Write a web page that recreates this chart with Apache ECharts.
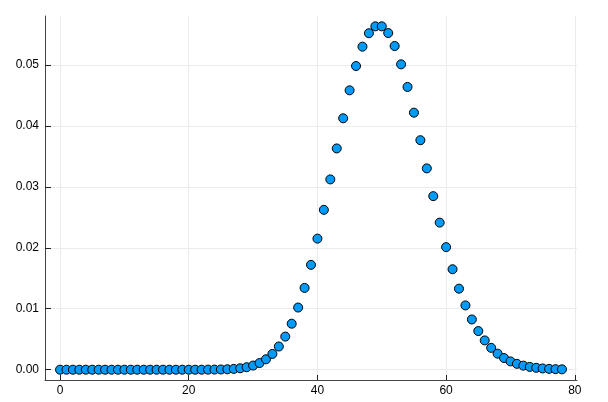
<!DOCTYPE html>
<html>
<head>
<meta charset="utf-8">
<script src="https://cdn.jsdelivr.net/npm/echarts@6/dist/echarts.min.js"></script>
<style>
  html, body { margin: 0; padding: 0; background: #fff; }
  #chart { width: 608px; height: 402px; }
</style>
</head>
<body>
<div id="chart"></div>
<script>
  // x positions (k = 0..78)
  const xs = [
    0, 1, 2, 3, 4, 5, 6, 7, 8, 9, 10, 11, 12, 13, 14, 15, 16, 17, 18, 19,
    20, 21, 22, 23, 24, 25, 26, 27, 28, 29, 30, 31, 32, 33, 34, 35, 36, 37, 38, 39,
    40, 41, 42, 43, 44, 45, 46, 47, 48, 49, 50, 51, 52, 53, 54, 55, 56, 57, 58, 59,
    60, 61, 62, 63, 64, 65, 66, 67, 68, 69, 70, 71, 72, 73, 74, 75, 76, 77, 78
  ];
  // probabilities
  const probs = [
    0, 0, 0, 0, 0, 0, 0, 0, 0, 0,
    0, 0, 0, 0, 0, 0, 0, 0, 0, 0,
    0, 0, 0, 0.00001, 0.00002, 0.000037, 0.000071, 0.000132, 0.000236, 0.000406,
    0.000677, 0.001092, 0.001707, 0.002586, 0.003803, 0.005433, 0.007545, 0.010196, 0.013416, 0.0172,
    0.0215, 0.02622, 0.031214, 0.036295, 0.041244, 0.045827, 0.049812, 0.052991, 0.055199, 0.056325,
    0.056325, 0.055221, 0.053097, 0.050091, 0.046381, 0.042164, 0.037647, 0.033024, 0.028469, 0.024126,
    0.020105, 0.01648, 0.01329, 0.010548, 0.008241, 0.006339, 0.004802, 0.003584, 0.002635, 0.00191,
    0.001364, 0.000961, 0.000667, 0.000457, 0.000309, 0.000206, 0.000135, 0.000088, 0.000056
  ];
  const xTicks = [0, 20, 40, 60, 80];
  const yTicks = [0, 0.01, 0.02, 0.03, 0.04, 0.05];

  const axisFont = { color: "#000", fontSize: 12, fontFamily: "Liberation Sans, Arial, sans-serif" };
  const gridLine = { show: true, lineStyle: { color: "#ebebeb", width: 1 } };

  const chart = echarts.init(document.getElementById("chart"), null, { renderer: "canvas" });
  chart.setOption({
    animation: false,
    grid: { left: 45, right: 31, top: 16, bottom: 22, containLabel: false },
    xAxis: {
      type: "value",
      min: -2.34,
      max: 80.34,
      axisLine: { show: true, onZero: false, lineStyle: { color: "#444", width: 1 } },
      axisTick: { show: true, inside: true, length: 5, customValues: xTicks, lineStyle: { color: "#222" } },
      axisLabel: { ...axisFont, margin: 5, customValues: xTicks, formatter: (v) => String(v) },
      splitLine: gridLine,
    },
    yAxis: {
      type: "value",
      min: -0.00169,
      max: 0.05802,
      axisLine: { show: true, onZero: false, lineStyle: { color: "#444", width: 1 } },
      axisTick: { show: true, inside: true, length: 6, customValues: yTicks, lineStyle: { color: "#222" } },
      axisLabel: { ...axisFont, margin: 6, customValues: yTicks, formatter: (v) => v.toFixed(2) },
      splitLine: gridLine,
    },
    series: [
      {
        type: "scatter",
        data: xs.map((x, i) => [x, probs[i]]),
        symbol: "circle",
        symbolSize: 9,
        itemStyle: { color: "#009af9", borderColor: "#000", borderWidth: 1, opacity: 1 },
      },
    ],
  });
</script>
</body>
</html>
